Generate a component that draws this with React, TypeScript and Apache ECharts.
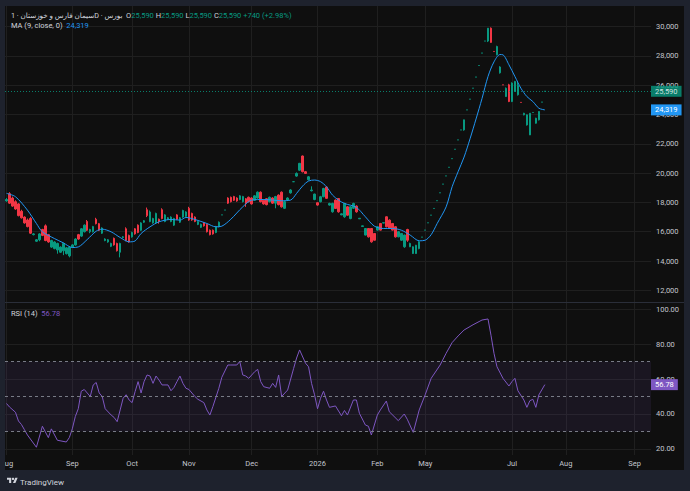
import React, { useEffect, useRef } from 'react';
import * as echarts from 'echarts';

const FONT = 'Roboto, "DejaVu Sans", "Noto Sans", sans-serif';

const symbolTitle = 'سیمان فارس و خوزستان · 1D · بورس';
const maTitle = 'MA (9, close, 0)';
const rsiTitle = 'RSI (14)';

// [open, close, low, high] per daily bar
const candles: number[][] = [
  [18100, 18200, 18050, 18300], [18600, 17950, 17900, 18700], [18300, 17750, 17700, 18400], [18050, 17550, 17500, 18150],
  [17900, 17100, 17050, 17950], [17400, 16950, 16900, 17500], [17000, 16600, 16550, 17050], [16800, 16350, 16300, 16900],
  [16900, 15900, 15850, 17000], [15800, 15850, 15750, 15900], [15350, 15450, 15300, 15500], [15450, 15850, 15350, 15900],
  [16150, 15750, 15700, 16200], [16400, 15400, 15350, 16500], [15800, 15300, 15250, 15850], [14950, 15400, 14900, 15450],
  [14850, 15300, 14800, 15350], [14750, 15200, 14500, 15250], [14600, 14950, 14550, 15000], [14700, 15200, 14400, 15250],
  [14500, 14900, 14450, 14950], [14350, 14950, 14250, 15000], [14950, 15100, 14900, 15150], [15100, 15500, 15050, 15550],
  [15800, 15500, 15450, 15850], [15700, 16200, 15650, 16250], [16000, 16450, 15950, 16500], [16700, 16100, 16050, 16800],
  [16000, 16150, 15900, 16200], [16000, 16350, 15950, 16400], [16850, 16550, 16500, 16950], [16550, 16100, 16050, 16600],
  [15900, 16250, 15850, 16300], [15400, 15500, 15350, 15550], [15300, 15450, 15250, 15500], [15000, 15200, 14950, 15250],
  [15550, 15100, 15050, 15600], [15200, 14700, 14650, 15250], [14600, 15200, 14250, 15250], [15600, 15650, 15550, 15700],
  [16200, 15400, 15350, 16300], [15750, 15300, 15250, 15800], [15650, 15950, 15600, 16000], [16200, 15850, 15800, 16250],
  [16450, 15950, 15900, 16500], [16100, 16600, 16050, 16650], [16650, 16750, 16600, 16800], [17500, 17100, 17000, 17650],
  [16700, 17350, 16650, 17450], [16600, 16900, 16550, 16950], [16600, 17250, 16550, 17300], [16850, 16700, 16550, 16900],
  [17500, 16900, 16850, 17600], [16700, 17150, 16650, 17200], [16850, 16950, 16800, 17000], [16700, 17000, 16650, 17050],
  [16450, 16900, 16400, 16950], [17150, 16850, 16800, 17200], [16650, 16950, 16600, 17000], [17000, 17450, 16950, 17500],
  [17050, 17350, 17000, 17400], [17600, 16800, 16750, 17700], [17250, 16800, 16750, 17300], [17000, 16700, 16650, 17050],
  [16500, 16700, 16450, 16750], [16300, 16500, 16250, 16550], [16600, 16400, 16350, 16650], [16500, 16000, 15950, 16550],
  [16100, 15800, 15750, 16150], [16100, 15850, 15800, 16150], [15950, 16350, 15900, 16400], [16350, 16650, 16300, 16700],
  [17150, 17150, 17150, 17150], [17480, 17480, 17480, 17480], [18300, 17950, 17900, 18350], [18350, 18050, 18000, 18400],
  [18400, 18150, 18100, 18450], [18300, 18100, 18050, 18350], [18200, 18450, 18150, 18500], [18050, 18400, 18000, 18450],
  [18250, 17950, 17700, 18300], [18350, 18050, 18000, 18400], [18300, 17900, 17850, 18350], [18150, 18450, 18100, 18500],
  [18300, 18700, 18250, 18750], [18700, 18050, 18000, 18750], [18150, 17900, 17850, 18200], [18250, 17850, 17800, 18300],
  [18050, 18350, 18000, 18400], [18300, 17950, 17900, 18350], [17950, 18400, 17600, 18450], [18500, 17850, 17800, 18550],
  [18700, 17700, 17650, 18750], [17600, 18050, 17550, 18100], [18150, 18300, 18100, 18350], [18650, 18850, 18600, 18900],
  [19415, 19415, 19415, 19415], [19800, 19980, 19750, 20050], [20200, 20670, 20150, 20700], [21170, 20100, 20050, 21200],
  [20100, 19980, 19950, 20150], [19550, 19750, 19500, 19800], [18800, 18850, 18750, 19100], [18200, 18570, 18150, 18600],
  [17980, 17820, 17780, 18000], [18050, 18390, 18000, 18450], [18390, 18950, 18350, 19000], [19050, 18280, 18250, 19100],
  [17820, 17930, 17780, 17980], [17360, 17930, 17300, 17980], [18160, 17590, 17550, 18200], [18270, 17360, 17300, 18300],
  [17150, 17220, 17130, 17250], [17020, 17930, 16950, 17980], [17700, 17130, 17100, 17750], [16900, 17700, 16850, 17750],
  [17600, 17930, 17550, 17980], [17750, 17360, 17300, 17800], [16880, 16920, 16870, 16930], [16360, 16400, 16350, 16410],
  [15770, 16220, 15750, 16250], [16220, 15650, 15600, 16250], [16220, 15310, 15250, 16250], [15880, 15420, 15400, 15900],
  [16110, 16340, 16080, 16380], [16560, 16110, 16080, 16600], [16590, 16620, 16580, 16630], [17020, 16340, 16300, 17050],
  [16790, 16220, 16200, 16850], [16560, 16110, 16080, 16600], [16340, 15650, 15600, 16380], [15650, 16000, 15620, 16050],
  [15420, 15880, 15380, 15900], [14970, 15770, 14900, 15800], [16150, 15420, 15310, 16200], [14970, 15200, 14950, 15250],
  [14510, 14970, 14480, 15000], [14510, 15080, 14480, 15100], [14850, 15310, 14800, 15350], [15630, 15630, 15630, 15630],
  [16110, 16110, 16110, 16110], [16610, 16610, 16610, 16610], [17130, 17130, 17130, 17130], [17590, 17590, 17590, 17590],
  [18120, 18120, 18120, 18120], [18660, 18660, 18660, 18660], [19250, 19250, 19250, 19250], [19810, 19810, 19810, 19810],
  [20400, 20400, 20400, 20400], [20990, 20990, 20990, 20990], [21630, 21630, 21630, 21630], [22270, 22270, 22270, 22270],
  [22950, 22950, 22950, 22950], [22950, 23640, 22900, 23650], [24320, 24320, 24320, 24320], [25050, 25050, 25050, 25050],
  [25800, 25800, 25800, 25800], [26560, 26560, 26560, 26560], [27350, 27350, 27350, 27350], [28200, 28200, 28200, 28200],
  [29020, 29020, 29020, 29020], [29020, 29900, 28950, 29900], [29900, 28930, 28900, 29950], [28310, 28310, 28310, 28310],
  [28080, 28650, 28050, 28700], [26850, 27250, 26800, 27300], [26030, 26030, 26030, 26030], [25230, 25800, 25200, 25850],
  [26030, 24890, 24850, 26100], [24890, 26150, 24850, 26200], [25580, 26260, 25550, 26300], [25350, 26000, 25300, 26260],
  [24830, 24830, 24830, 24830], [23980, 24090, 23950, 24120], [23290, 23980, 23250, 24000], [22610, 24090, 22600, 24100],
  [24140, 24140, 24140, 24140], [23410, 23750, 23380, 23780], [23640, 24210, 23600, 24230], [24850, 24850, 24850, 24850],
  [25590, 25590, 25590, 25590],
];

// [bar index, MA(9) value]
const maPoints: number[][] = [
  [0, 18620], [3, 18390], [7, 17475], [10, 16563], [12, 15993], [16, 15537], [19, 15240], [22, 14921], [24, 14960],
  [27, 15468], [30, 16038], [32, 16175], [35, 15990], [38, 15605], [41, 15309], [43, 15370], [45, 15879], [48, 16335],
  [51, 16677], [55, 16837], [58, 16790], [60, 16974], [63, 16837], [67, 16563], [70, 16335], [72, 16380], [75, 16850],
  [79, 17700], [82, 18161], [86, 18200], [89, 18161], [92, 18115], [95, 18161], [97, 18617], [99, 19119], [101, 19461],
  [103, 19529], [105, 19420], [107, 19073], [109, 18503], [111, 18161], [113, 17932], [117, 17659], [120, 17020],
  [123, 16381], [126, 16222], [129, 16222], [132, 16108], [135, 15766], [138, 15380], [140, 15420], [142, 15800],
  [144, 16560], [147, 17700], [149, 19070], [151, 20100], [153, 21100], [155, 22350], [157, 23700], [159, 25100],
  [161, 26600], [163, 27600], [165, 28100], [166, 28080], [168, 27400], [170, 26600], [172, 25800], [174, 25230],
  [176, 24890], [178, 24435], [180, 24319],
];

// [bar index, RSI(14) value]
const rsiPoints: number[][] = [
  [0, 46], [1, 44], [3, 41], [4, 36], [5, 34], [6, 31], [7, 28], [10, 21], [12, 33], [14, 26.5], [15, 31.5], [17, 25],
  [20, 24], [21, 26.5], [22, 31.5], [23, 38.5], [24, 43], [25, 53], [26, 54], [27, 52], [28, 50], [29, 56.6], [30, 58],
  [31, 52], [32, 50], [33, 43], [35, 39.4], [36, 38], [37, 35.6], [38, 42.3], [39, 49], [40, 51], [41, 48], [42, 46.5],
  [43, 52.8], [44, 58.5], [45, 52], [46, 58.5], [47, 62.3], [48, 61.7], [49, 57.5], [50, 61.7], [51, 59.4], [52, 56.6],
  [54, 56.6], [55, 53.3], [56, 55.2], [57, 58.5], [58, 61.7], [59, 57.5], [60, 54.7], [61, 54], [63, 50], [64, 48.4],
  [66, 46.5], [67, 42.3], [68, 39.4], [69, 44.2], [71, 54.7], [72, 61], [74, 68], [75, 68], [77, 68], [78, 70],
  [79, 62.3], [80, 61.7], [81, 60.4], [83, 64.2], [84, 65.5], [85, 58.5], [86, 55.6], [88, 54.7], [89, 57.5], [90, 55.2],
  [91, 62.3], [92, 50], [94, 53.7], [96, 66], [97, 72], [98, 76.6], [100, 69], [101, 67], [102, 57.5], [103, 51],
  [104, 43], [105, 49], [106, 53], [107, 48], [108, 43.8], [110, 44.6], [112, 39], [113, 42], [114, 39.4], [116, 48],
  [117, 48], [118, 40.4], [120, 33.7], [121, 33], [122, 28], [124, 39.4], [125, 42.3], [127, 47.4], [128, 41.3],
  [131, 36.2], [133, 40], [134, 37], [136, 29.5], [138, 42.3], [140, 51], [142, 60.4], [145, 68], [147, 74.7],
  [149, 80.8], [151, 84.6], [153, 88], [156, 91], [158, 92.8], [159, 93.7], [161, 94.3], [162, 85], [163, 74.7],
  [164, 67], [166, 60.4], [168, 56], [169, 58.5], [170, 60.4], [171, 53.3], [173, 48], [174, 43.8], [175, 47.6],
  [176, 48.4], [177, 43.8], [178, 50.9], [180, 56.78],
];

const monthLabels = ['Aug', 'Sep', 'Oct', 'Nov', 'Dec', '2026', 'Feb', 'May', 'Jul', 'Aug', 'Sep'];
const monthSlots = [0, 22, 42, 61, 82, 104, 124, 140, 169, 187, 210];
const priceTicks = [12000, 14000, 16000, 18000, 20000, 22000, 24000, 26000, 28000, 30000];
const rsiTicks = [20, 40, 60, 80, 100];
const rsiBandLevels = [70, 50, 30];
const SLOT_COUNT = 216;

const UP = '#089981';
const DOWN = '#f23645';
const MA_COLOR = '#2196f3';
const RSI_COLOR = '#7e57c2';
const TEXT = '#d1d4dc';
const AXIS_TEXT = '#c3c6ce';
const GRID = '#1f1f1f';
const FRAME = '#1e222d';

echarts.graphic.registerShape(
  'tvlogo',
  echarts.graphic.extendPath('M14 22H7V11H0V4h14v18zM28 22h-8l7.5-18h8L28 22z', {}) as any
);

const fmt = (v: number) => Math.round(v).toLocaleString('en-US');

export default function App() {
  const ref = useRef<HTMLDivElement>(null);

  useEffect(() => {
    if (!ref.current) return;
    const chart = echarts.init(ref.current, null, { renderer: 'svg' });

    const categories: string[] = Array.from({ length: SLOT_COUNT }, () => '');
    monthSlots.forEach((s, k) => {
      categories[s] = monthLabels[k];
    });

    const last = candles[candles.length - 1];
    const prev = candles[candles.length - 2];
    const lastClose = last[1];
    const change = lastClose - prev[1];
    const changePct = (change / prev[1]) * 100;
    const lastMA = maPoints[maPoints.length - 1][1];
    const lastRSI = rsiPoints[rsiPoints.length - 1][1];

    const fs = 7.5;
    const boxLabel = (bg: string, text: string) => ({
      show: true,
      position: 'end',
      distance: 0,
      formatter: text,
      color: '#ffffff',
      backgroundColor: bg,
      padding: [2, 4, 1, 4],
      fontSize: fs,
      fontFamily: FONT,
    });

    const splitX = {
      show: true,
      alignWithLabel: true,
      interval: (_i: number, v: string) => v !== '',
      lineStyle: { color: GRID, width: 1 },
    };

    const richBase = (c: string, size = fs) => ({ fill: c, color: c, fontSize: size, fontFamily: FONT });
    const sign = change >= 0 ? '+' : '';

    const option: any = {
      animation: false,
      backgroundColor: '#0f0f0f',
      textStyle: { fontFamily: FONT },
      grid: [
        { left: 5, top: 6, width: 646, height: 296, containLabel: false, outerBoundsMode: 'none' },
        { left: 5, top: 303, width: 646, height: 152, containLabel: false, outerBoundsMode: 'none' },
      ],
      xAxis: [
        {
          type: 'category', gridIndex: 0, data: categories, boundaryGap: true,
          axisLine: { show: false }, axisTick: { show: false }, axisLabel: { show: false },
          splitLine: splitX,
        },
        {
          type: 'category', gridIndex: 1, data: categories, boundaryGap: true,
          axisLine: { show: false }, axisTick: { show: false },
          axisLabel: { show: true, interval: 0, color: AXIS_TEXT, fontSize: fs, fontFamily: FONT, margin: 4 },
          splitLine: splitX,
        },
      ],
      yAxis: [
        {
          type: 'value', gridIndex: 0, position: 'right', min: 11201, max: 31414, splitNumber: 10,
          axisLine: { show: false },
          axisTick: { show: false, customValues: priceTicks },
          axisLabel: {
            customValues: priceTicks, color: AXIS_TEXT, fontSize: fs, fontFamily: FONT, margin: 5,
            formatter: (v: number) => fmt(v),
          },
          splitLine: { show: true, lineStyle: { color: GRID, width: 1 } },
        },
        {
          type: 'value', gridIndex: 1, position: 'right', min: 16.57, max: 103.43,
          axisLine: { show: false },
          axisTick: { show: false, customValues: rsiTicks },
          axisLabel: {
            customValues: rsiTicks, color: AXIS_TEXT, fontSize: fs, fontFamily: FONT, margin: 5,
            formatter: (v: number) => v.toFixed(2),
          },
          splitLine: { show: true, lineStyle: { color: GRID, width: 1 } },
        },
      ],
      series: [
        {
          type: 'candlestick', xAxisIndex: 0, yAxisIndex: 0, data: candles, barWidth: 2,
          itemStyle: { color: UP, color0: DOWN, borderColor: UP, borderColor0: DOWN, borderWidth: 1 },
          markLine: {
            silent: true, symbol: ['none', 'none'], animation: false,
            data: [{ yAxis: lastClose }],
            lineStyle: { color: UP, type: [1, 2], width: 1, opacity: 0.8 },
            label: boxLabel(UP, fmt(lastClose)),
          },
          z: 2,
        },
        {
          type: 'line', xAxisIndex: 0, yAxisIndex: 0, data: maPoints, showSymbol: false, smooth: 0.3,
          lineStyle: { color: MA_COLOR, width: 1 }, z: 3,
          markLine: {
            silent: true, symbol: ['none', 'none'], animation: false,
            data: [{ yAxis: lastMA }],
            lineStyle: { color: 'rgba(0,0,0,0)', width: 0 },
            label: boxLabel(MA_COLOR, fmt(lastMA)),
          },
        },
        {
          type: 'line', xAxisIndex: 1, yAxisIndex: 1, data: rsiPoints, showSymbol: false,
          lineStyle: { color: RSI_COLOR, width: 1 }, z: 3,
          markArea: {
            silent: true,
            itemStyle: { color: 'rgba(126,87,194,0.1)' },
            data: [[{ yAxis: rsiBandLevels[2] }, { yAxis: rsiBandLevels[0] }]],
          },
          markLine: {
            silent: true, symbol: ['none', 'none'], animation: false,
            data: [
              ...rsiBandLevels.map((lv) => ({
                yAxis: lv,
                lineStyle: { color: '#787b86', type: [3, 3], width: 1 },
                label: { show: false },
              })),
              {
                yAxis: lastRSI,
                lineStyle: { color: 'rgba(0,0,0,0)', width: 0 },
                label: boxLabel(RSI_COLOR, lastRSI.toFixed(2)),
              },
            ],
          },
        },
      ],
      graphic: [
        { type: 'rect', silent: true, z: 100, shape: { x: 0, y: 0, width: 690, height: 6 }, style: { fill: FRAME } },
        { type: 'rect', silent: true, z: 100, shape: { x: 0, y: 0, width: 5, height: 491 }, style: { fill: FRAME } },
        { type: 'rect', silent: true, z: 100, shape: { x: 684, y: 0, width: 6, height: 491 }, style: { fill: FRAME } },
        { type: 'rect', silent: true, z: 100, shape: { x: 0, y: 470, width: 690, height: 21 }, style: { fill: FRAME } },
        { type: 'rect', silent: true, z: 90, shape: { x: 5, y: 302, width: 679, height: 1 }, style: { fill: '#2a2e39' } },
        {
          type: 'text', silent: true, z: 95, x: 11, y: 15,
          style: {
            text:
              `{t|${symbolTitle}}  {l|O}{v|${fmt(last[0])}} {l|H}{v|${fmt(last[3])}} {l|L}{v|${fmt(last[2])}} {l|C}{v|${fmt(last[1])}} ` +
              `{v|${sign}${fmt(change)} (${sign}${changePct.toFixed(2)}%)}`,
            font: `${fs}px ${FONT}`,
            textVerticalAlign: 'middle', verticalAlign: 'middle',
            rich: {
              t: richBase(TEXT, 7.2),
              l: richBase(TEXT),
              v: richBase(UP),
            },
          },
        },
        {
          type: 'text', silent: true, z: 95, x: 11, y: 25.5,
          style: {
            text: `{l|${maTitle}}  {v|${fmt(lastMA)}}`,
            font: `${fs}px ${FONT}`, textVerticalAlign: 'middle', verticalAlign: 'middle',
            rich: { l: richBase(TEXT), v: richBase(MA_COLOR) },
          },
        },
        {
          type: 'text', silent: true, z: 95, x: 11, y: 313,
          style: {
            text: `{l|${rsiTitle}}  {v|${lastRSI.toFixed(2)}}`,
            font: `${fs}px ${FONT}`, textVerticalAlign: 'middle', verticalAlign: 'middle',
            rich: { l: richBase(TEXT), v: richBase(RSI_COLOR) },
          },
        },
        { type: 'tvlogo', silent: true, z: 101, x: 7, y: 476.5, scaleX: 0.3, scaleY: 0.3, style: { fill: TEXT } },
        { type: 'circle', silent: true, z: 101, shape: { cx: 7 + 20 * 0.3, cy: 476.5 + 8 * 0.3, r: 4 * 0.3 }, style: { fill: TEXT } },
        {
          type: 'text', silent: true, z: 101, x: 20, y: 482.5,
          style: { text: 'TradingView', fill: TEXT, font: `8px ${FONT}`, textVerticalAlign: 'middle', verticalAlign: 'middle' },
        },
      ],
    };

    chart.setOption(option);
    return () => chart.dispose();
  }, []);

  return <div ref={ref} style={{ position: 'fixed', left: 0, top: 0, width: 690, height: 491 }} />;
}
